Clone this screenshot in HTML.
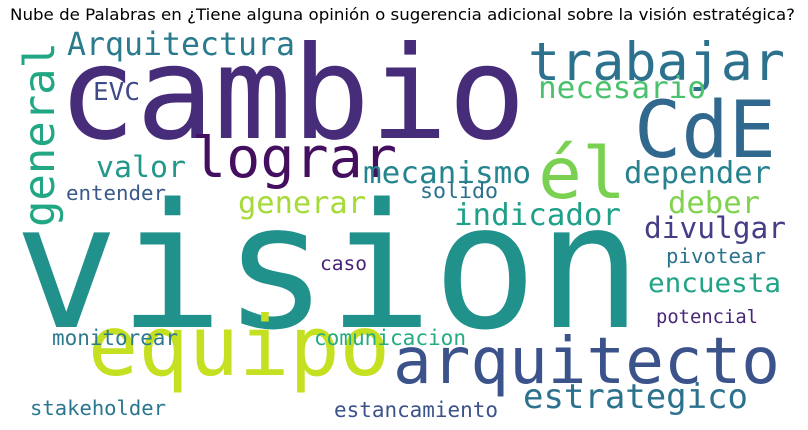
<!DOCTYPE html>
<html><head><meta charset="utf-8"><style>
html,body{margin:0;padding:0;background:#fff;}
svg{display:block;}
text{font-family:"DejaVu Sans Mono","Liberation Mono",monospace;}
</style></head><body>
<svg width="808" height="430" viewBox="0 0 808 430">
<text x="10" y="20" textLength="785" lengthAdjust="spacingAndGlyphs" style="font-family:'DejaVu Sans','Liberation Sans',sans-serif;font-size:16px" fill="#000">Nube de Palabras en ¿Tiene alguna opinión o sugerencia adicional sobre la visión estratégica?</text>
<g id="words"></g>
</svg>
<script>
const words = ["vision","cambio","equipo","arquitecto","trabajar","CdE","él","lograr","Arquitectura","general","EVC","necesario","valor","mecanismo","depender","generar","indicador","deber","entender","solido","divulgar","pivotear","caso","encuesta","monitorear","comunicacion","potencial","estrategico","stakeholder","estancamiento"];
const colors = ["#21918c","#472c7a","#c5e021","#3b528b","#2c728e","#31688e","#7ad151","#440f5e","#2a7b8e","#22a785","#3e4a89","#4ac16d","#23988a","#25858e","#26828e","#a5db36","#1fa088","#7fd34e","#3b5a8b","#2d708e","#433e85","#2c738e","#482173","#20a386","#2c7a8e","#25ab82","#482576","#2c728e","#2a768e","#3b528b"];
const xs = [14,58,88,393,528,634,538,192,67,20,93,538,96,363,624,238,454,668,66,420,644,666,320,648,52,314,656,523,30,334];
const ys = [327,138,375,383,80,157,198,177,55,227,100,98,177,183,183,213,225,213,200,198,238,263,270,292,345,345,323,408,415,417];
const widths = [628,468,302,387,257,142,88,205,228,185,47,168,90,168,147,128,167,92,100,78,142,100,47,133,126,152,102,225,136,164];
const sizes = [173,129,83,64,53,78,71,56,32,43,25,30,29,30,30,30,30,30,20,21,29,20,19,27,21,21,19,34,20,21];
const rotated = [0,0,0,0,0,0,0,0,0,1,0,0,0,0,0,0,0,0,0,0,0,0,0,0,0,0,0,0,0,0];
const g = document.getElementById('words');
words.forEach((w,i)=>{
  const t = document.createElementNS('http://www.w3.org/2000/svg','text');
  
  
  t.setAttribute('x', xs[i]);
  t.setAttribute('y', ys[i]);
  t.setAttribute('font-size', sizes[i]);
  t.setAttribute('fill', colors[i]);
  t.setAttribute('textLength', widths[i]);
  t.setAttribute('lengthAdjust', 'spacingAndGlyphs');
  if (rotated[i]) {
    t.setAttribute('x', 0);
    t.setAttribute('y', 0);
    t.setAttribute('transform', 'translate(' + (xs[i]+34) + ',' + ys[i] + ') rotate(-90)');
  }
  t.textContent = w;
  g.appendChild(t);
});
</script>
</body></html>
